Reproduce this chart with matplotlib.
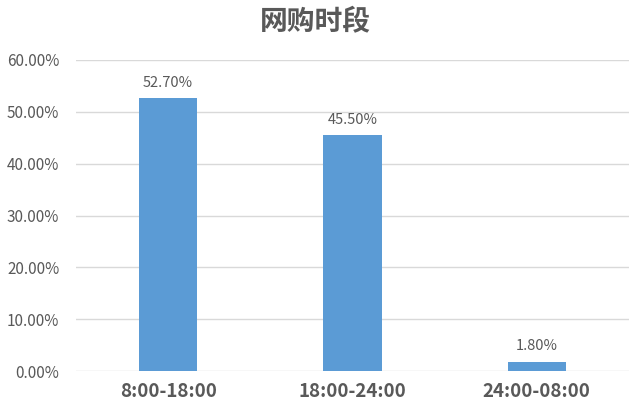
import matplotlib.pyplot as plt
from matplotlib.ticker import FuncFormatter

plt.rcParams['font.family'] = ['Noto Sans CJK SC', 'DejaVu Sans']

periods = ['8:00-18:00', '18:00-24:00', '24:00-08:00']
shares = [52.7, 45.5, 1.8]
y_ticks = [0, 10, 20, 30, 40, 50, 60]

text_gray = '#595959'

fig = plt.figure(figsize=(6.31, 4.17), dpi=100)
ax = fig.add_axes([76 / 631, 1 - 371 / 417, 553 / 631, 311 / 417])

x = list(range(len(periods)))
bars = ax.bar(x, shares, width=0.315, color='#5B9BD5', zorder=3)
for b, v in zip(bars, shares):
    ax.text(b.get_x() + b.get_width() / 2, v + 1.6, f'{v:.2f}%',
            ha='center', va='bottom', fontsize=10.5, color=text_gray)

ax.set_xlim(-0.5, len(periods) - 0.5)
ax.set_ylim(0, 60)
ax.set_yticks(y_ticks)
ax.yaxis.set_major_formatter(FuncFormatter(lambda v, p: f'{v:.2f}%'))
ax.set_xticks(x)
ax.set_xticklabels(periods, fontsize=13.5, fontweight='bold', color=text_gray)
ax.tick_params(axis='y', labelsize=11, labelcolor=text_gray, length=0, pad=12)
ax.tick_params(axis='x', length=0, pad=8)
ax.grid(axis='y', color='#D9D9D9', linewidth=1, zorder=0)
for s in ax.spines.values():
    s.set_visible(False)

fig.suptitle('网购时段', x=0.5, y=0.98, fontsize=20, fontweight='bold', color=text_gray)

fig.savefig('out.png', dpi=100)
